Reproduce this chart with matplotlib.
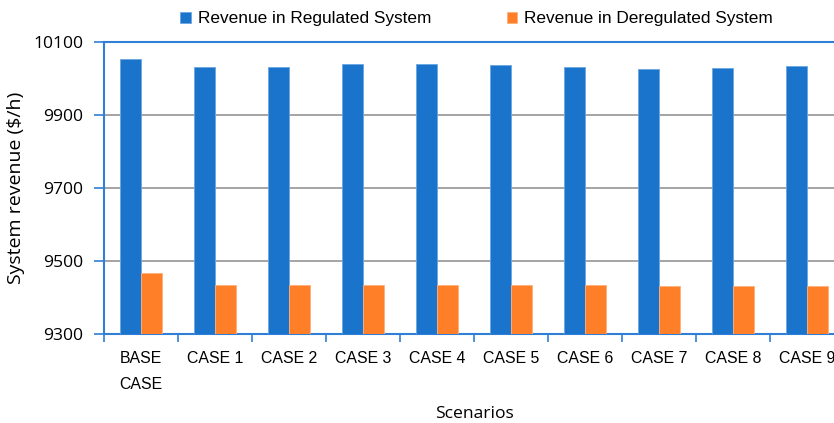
import matplotlib
matplotlib.use("Agg")
import matplotlib.pyplot as plt
from matplotlib import font_manager
import numpy as np

# values ($/h)
scenarios = ["BASE\nCASE", "CASE 1", "CASE 2", "CASE 3", "CASE 4",
             "CASE 5", "CASE 6", "CASE 7", "CASE 8", "CASE 9"]
regulated = [10053, 10033, 10032, 10040, 10041, 10038, 10033, 10028, 10030, 10035]
deregulated = [9468, 9436, 9434, 9436, 9436, 9435, 9434, 9433, 9433, 9433]

BLUE = "#1a74cb"
ORANGE = "#fe7f27"
AXIS = "#2f7fd6"


def pick(*names):
    for n in names:
        try:
            font_manager.findfont(n, fallback_to_default=False)
            return n
        except Exception:
            continue
    return "DejaVu Sans"


NARROW = pick("Liberation Sans Narrow", "Liberation Sans", "Arial")
WIDE = pick("Open Sans", "Noto Sans", "Lato")

fig = plt.figure(figsize=(8.34, 4.23), dpi=100)
W, H = 834, 423
ax = fig.add_axes([104 / W, 1 - 334.3 / H, (844 - 104) / W, (334.3 - 42.3) / H])

x = np.arange(len(scenarios))
w = 0.284
ax.bar(x - w / 2, regulated, w, color=BLUE, edgecolor="#6aa6e2", lw=0.6,
       label="Revenue in Regulated System", zorder=3)
ax.bar(x + w / 2, deregulated, w, color=ORANGE, edgecolor="#ffb07a", lw=0.6,
       label="Revenue in Deregulated System", zorder=3)

ax.set_ylim(9300, 10100)
ax.set_xlim(-0.5, len(scenarios) - 0.5)
ax.set_yticks([9300, 9500, 9700, 9900, 10100])
ax.yaxis.grid(True, color="#8c8c8c", lw=1.1, zorder=0)
ax.set_axisbelow(True)

for s in ("left", "bottom", "top"):
    ax.spines[s].set_color(AXIS)
    ax.spines[s].set_linewidth(1.5)
ax.spines["right"].set_visible(False)

ax.tick_params(axis="y", direction="out", length=7, width=1.2, color=AXIS,
               pad=8, labelsize=12.6)
for lab in ax.get_yticklabels():
    lab.set_family(WIDE)

ax.set_xticks(x)
ax.set_xticklabels(scenarios, family=NARROW, fontsize=11.4, linespacing=1.95, va="top")
ax.set_xticks(np.arange(-0.5, len(scenarios)), minor=True)
ax.tick_params(axis="x", which="major", length=0, pad=12)
ax.tick_params(axis="x", which="minor", direction="out", length=6, width=1.2, color=AXIS)

ax.set_ylabel("System revenue ($/h)", family=WIDE, fontsize=14, labelpad=6)
ax.set_xlabel("Scenarios", family=WIDE, fontsize=12.6, labelpad=10)

fig.legend(loc="center", bbox_to_anchor=(476.5 / W, 1 - 19 / H), ncol=2, frameon=False,
           prop={"family": NARROW, "size": 12.4}, handlelength=0.6, handleheight=0.6,
           handletextpad=0.4, columnspacing=4.4)

fig.savefig("out.png", dpi=100)
